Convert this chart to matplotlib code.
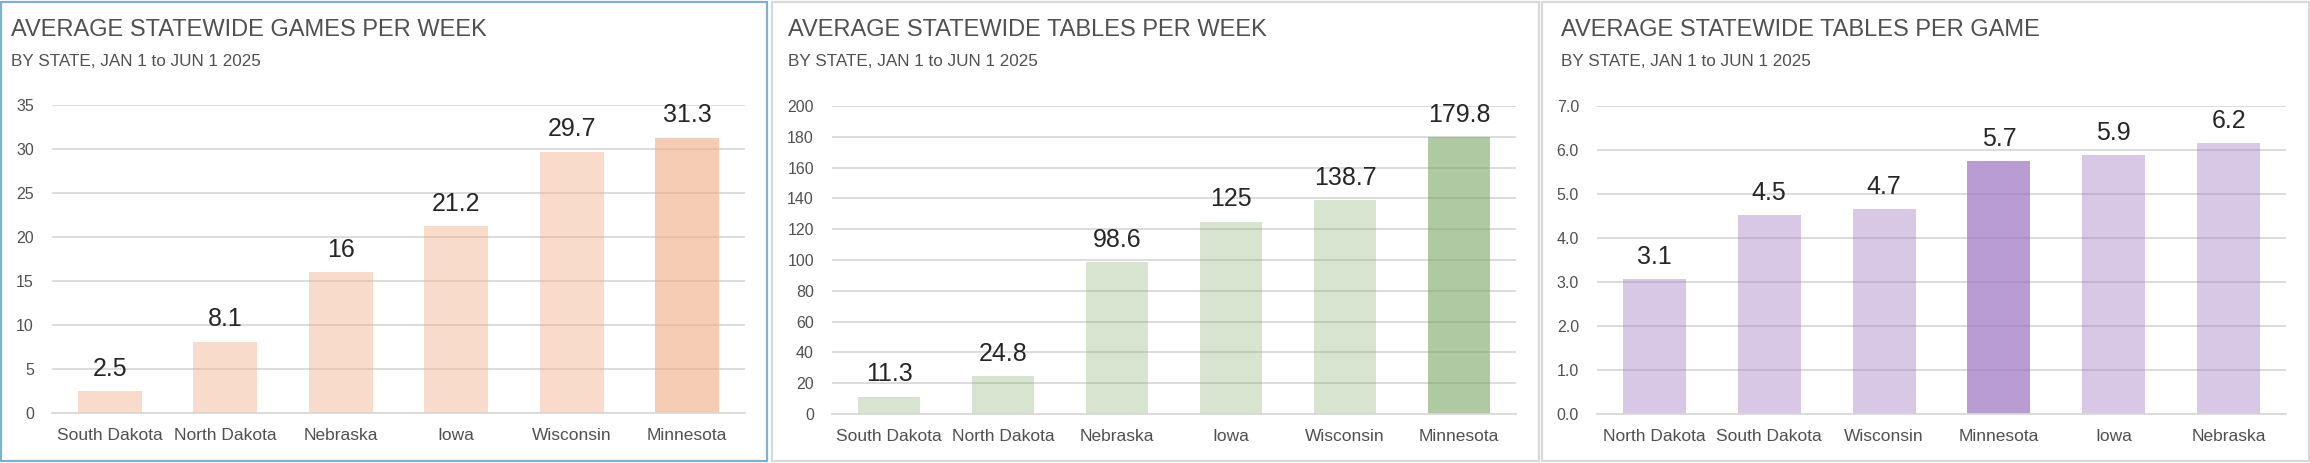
import matplotlib.pyplot as plt
from matplotlib.patches import Rectangle

plt.rcParams['font.family'] = ['Liberation Sans', 'DejaVu Sans']

W, H = 2310, 463

# panel 1
games_states = ["South Dakota", "North Dakota", "Nebraska", "Iowa", "Wisconsin", "Minnesota"]
games_per_week = [2.5, 8.1, 16, 21.2, 29.7, 31.3]

# panel 2
tables_states = ["South Dakota", "North Dakota", "Nebraska", "Iowa", "Wisconsin", "Minnesota"]
tables_per_week = [11.3, 24.8, 98.6, 125, 138.7, 179.8]

# panel 3
tpg_states = ["North Dakota", "South Dakota", "Wisconsin", "Minnesota", "Iowa", "Nebraska"]
tables_per_game = [3.06, 4.52, 4.66, 5.74, 5.89, 6.16]

subtitle = "BY STATE, JAN 1 to JUN 1 2025"
highlight = "Minnesota"

TEXT = "#505050"
GRID = "#D9D9D9"

fig = plt.figure(figsize=(W / 100, H / 100), dpi=100)


def px(x0, y_top, x1, y_bot):
    return [x0 / W, 1 - y_bot / H, (x1 - x0) / W, (y_bot - y_top) / H]


def panel(left, right, edge, title_x, title, ax_box, states, values, ymax, ystep,
          base, a_light, a_dark, ytickfmt, labelfmt):
    fig.patches.append(Rectangle((left / W, 2 / H), (right - left) / W, (H - 4) / H,
                                 transform=fig.transFigure, fill=False,
                                 edgecolor=edge, linewidth=1.6))
    fig.text(title_x / W, 1 - 36 / H, title, fontsize=17, color=TEXT, va='baseline')
    fig.text(title_x / W, 1 - 66 / H, subtitle, fontsize=12.3, color=TEXT, va='baseline')

    ax = fig.add_axes(px(*ax_box))
    x = range(len(states))
    alphas = [a_dark if s == highlight else a_light for s in states]
    for xi, v, a in zip(x, values, alphas):
        ax.bar(xi, v, width=0.55, color=base, alpha=a, zorder=2, linewidth=0)
        ax.annotate(format(v, labelfmt), (xi, v), xytext=(0, 11), textcoords='offset points',
                    ha='center', va='baseline', fontsize=18, color="#262626")
    ax.set_xlim(-0.5, len(states) - 0.5)
    ax.set_ylim(0, ymax)
    ticks = [i * ystep for i in range(int(round(ymax / ystep)) + 1)]
    ax.set_yticks(ticks)
    ax.set_yticklabels([format(t, ytickfmt) for t in ticks])
    ax.set_xticks(list(x))
    ax.set_xticklabels(states)
    ax.grid(axis='y', color=GRID, linewidth=1.3, zorder=1)
    ax.set_axisbelow(True)
    for s in ['top', 'right', 'left']:
        ax.spines[s].set_visible(False)
    ax.spines['bottom'].set_color(GRID)
    ax.spines['bottom'].set_linewidth(1.3)
    ax.tick_params(axis='y', length=0, pad=13, labelsize=11.5, labelcolor=TEXT)
    ax.tick_params(axis='x', length=0, pad=11, labelsize=12.5, labelcolor=TEXT)
    return ax


panel(1, 767, "#7FB2C9", 11, "AVERAGE STATEWIDE GAMES PER WEEK", (52, 105, 745, 413),
      games_states, games_per_week, 35, 5, "#F1A983", 0.41, 0.6, "g", "g")
panel(772, 1539, GRID, 788, "AVERAGE STATEWIDE TABLES PER WEEK", (832, 106, 1516, 414),
      tables_states, tables_per_week, 200, 20, "#7BA866", 0.3, 0.6, "g", "g")
panel(1542, 2309, GRID, 1561, "AVERAGE STATEWIDE TABLES PER GAME", (1597, 106, 2286, 414),
      tpg_states, tables_per_game, 7, 1, "#9B73BF", 0.39, 0.7, ".1f", ".1f")

fig.savefig("out.png", dpi=100)
